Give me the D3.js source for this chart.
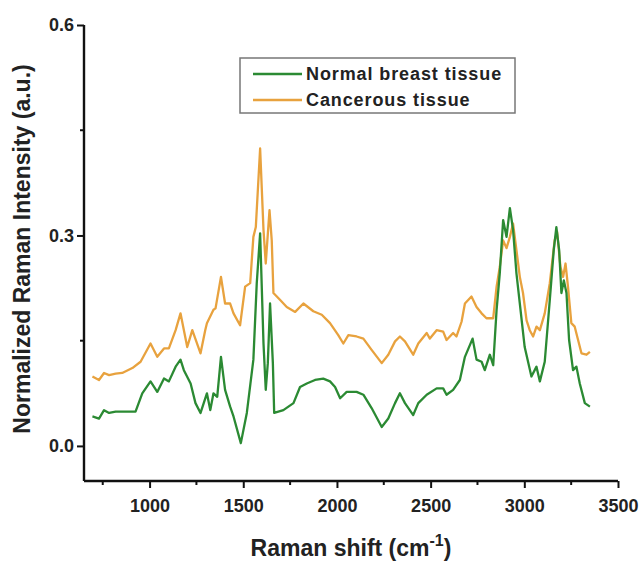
<!DOCTYPE html>
<html><head><meta charset="utf-8">
<script src="https://cdn.jsdelivr.net/npm/d3@7"></script>
<style>body{margin:0;background:#fff}svg{display:block}</style>
</head><body><svg id="c" width="641" height="563"></svg>
<script>
const normalX=[695,730,757,784,819,925,961,1005,1041,1077,1103,1139,1165,1183,1219,1245,1272,1306,1324,1341,1361,1381,1403,1430,1448,1487,1519,1554,1572,1590,1608,1620,1631,1643,1658,1665,1714,1768,1803,1839,1883,1927,1963,1990,2017,2052,2105,2141,2185,2239,2274,2310,2336,2363,2407,2434,2479,2532,2567,2585,2620,2656,2683,2724,2745,2772,2789,2816,2834,2852,2869,2887,2905,2923,2940,2958,2976,3002,3038,3065,3083,3109,3136,3157,3171,3186,3198,3211,3225,3239,3260,3278,3296,3323,3350];
const normalY=[0.042,0.039,0.051,0.047,0.049,0.049,0.075,0.092,0.077,0.096,0.092,0.113,0.123,0.108,0.089,0.061,0.047,0.075,0.051,0.075,0.070,0.127,0.080,0.056,0.042,0.004,0.047,0.123,0.232,0.303,0.146,0.080,0.118,0.203,0.118,0.047,0.051,0.061,0.084,0.089,0.094,0.096,0.092,0.084,0.068,0.077,0.077,0.073,0.054,0.027,0.039,0.061,0.075,0.061,0.044,0.061,0.073,0.082,0.082,0.073,0.080,0.094,0.127,0.153,0.123,0.120,0.108,0.130,0.115,0.194,0.246,0.322,0.298,0.339,0.308,0.246,0.203,0.141,0.099,0.113,0.092,0.120,0.208,0.279,0.312,0.279,0.218,0.236,0.218,0.151,0.108,0.113,0.089,0.061,0.056];
const cancerX=[695,730,757,784,819,854,908,952,1005,1041,1077,1103,1139,1165,1201,1228,1272,1297,1306,1341,1352,1381,1403,1430,1448,1483,1510,1537,1554,1567,1590,1608,1620,1640,1652,1661,1697,1732,1777,1821,1874,1919,1963,2007,2034,2061,2105,2141,2185,2239,2274,2310,2336,2363,2407,2434,2479,2496,2532,2567,2585,2620,2638,2665,2683,2718,2745,2772,2798,2834,2852,2869,2887,2905,2923,2940,2958,2976,2993,3012,3029,3047,3065,3083,3109,3136,3162,3175,3193,3207,3220,3233,3251,3269,3287,3305,3332,3350];
const cancerY=[0.099,0.094,0.104,0.101,0.103,0.104,0.111,0.120,0.146,0.127,0.139,0.139,0.165,0.189,0.141,0.165,0.132,0.165,0.175,0.194,0.196,0.241,0.203,0.203,0.189,0.172,0.227,0.232,0.298,0.312,0.424,0.308,0.260,0.336,0.293,0.218,0.208,0.198,0.191,0.203,0.192,0.187,0.175,0.158,0.146,0.158,0.156,0.153,0.137,0.118,0.130,0.149,0.156,0.149,0.130,0.146,0.161,0.153,0.165,0.163,0.151,0.161,0.156,0.177,0.203,0.213,0.198,0.189,0.182,0.182,0.227,0.255,0.293,0.282,0.298,0.317,0.279,0.241,0.218,0.179,0.165,0.156,0.170,0.165,0.189,0.232,0.293,0.305,0.255,0.241,0.260,0.227,0.175,0.170,0.151,0.132,0.130,0.134];
const xTicks=[1000,1500,2000,2500,3000,3500];
const xMinor=[750,1250,1750,2250,2750,3250];
const yTicks=[0.0,0.3,0.6];
const yMinor=[0.15,0.45];
const seriesNames=["Normal breast tissue","Cancerous tissue"];
const colors=["#2b8a33","#e8a23e"];

const svg=d3.select("#c");
const m={l:84,t:25,r:618,b:481};
const x=d3.scaleLinear().domain([650,3500]).range([m.l,m.r]);
const y=d3.scaleLinear().domain([-0.05,0.6]).range([m.b,m.t]);
const font="'Liberation Sans',Arial,sans-serif";

const line=d3.line().x(d=>x(d[0])).y(d=>y(d[1]));
const dN=normalX.map((v,i)=>[v,normalY[i]]);
const dC=cancerX.map((v,i)=>[v,cancerY[i]]);
svg.append("path").datum(dC).attr("d",line).attr("fill","none").attr("stroke",colors[1]).attr("stroke-width",2.3).attr("stroke-linejoin","round");
svg.append("path").datum(dN).attr("d",line).attr("fill","none").attr("stroke",colors[0]).attr("stroke-width",2.3).attr("stroke-linejoin","round");

// axes
const xa=svg.append("g").attr("transform",`translate(0,${m.b})`)
  .call(d3.axisBottom(x).tickValues(xTicks).tickSize(7).tickPadding(11).tickFormat(d3.format("d")));
xa.append("g").selectAll("line").data(xMinor).join("line").attr("x1",d=>x(d)).attr("x2",d=>x(d)).attr("y1",0).attr("y2",4).attr("stroke","#111").attr("stroke-width",2);
const ya=svg.append("g").attr("transform",`translate(${m.l},0)`)
  .call(d3.axisLeft(y).tickValues(yTicks).tickSize(7).tickPadding(3).tickFormat(d3.format(".1f")));
ya.append("g").selectAll("line").data(yMinor).join("line").attr("x1",0).attr("x2",-4).attr("y1",d=>y(d)).attr("y2",d=>y(d)).attr("stroke","#111").attr("stroke-width",2);
[xa,ya].forEach(g=>{
  g.select(".domain").attr("stroke","#111").attr("stroke-width",2.4).attr("d", g===xa?`M${m.l},0H${m.r}`:`M0,${m.b}V${m.t}`);
  g.selectAll(".tick line").attr("stroke","#111").attr("stroke-width",2);
  g.selectAll(".tick text").attr("font-family",font).attr("font-weight","bold").attr("font-size",18).attr("fill","#222");
});

// titles
svg.append("text").attr("x",(m.l+m.r)/2).attr("y",556).attr("text-anchor","middle")
  .attr("font-family",font).attr("font-weight","bold").attr("font-size",23).attr("fill","#222")
  .call(t=>{t.append("tspan").text("Raman shift (cm");t.append("tspan").attr("dy",-10).attr("font-size",16).text("-1");t.append("tspan").attr("dy",10).text(")");});
svg.append("text").attr("transform","translate(30,249) rotate(-90)").attr("text-anchor","middle")
  .attr("font-family",font).attr("font-weight","bold").attr("font-size",23).attr("fill","#222")
  .text("Normalized Raman Intensity (a.u.)");

// legend
const lg=svg.append("g");
lg.append("rect").attr("x",240).attr("y",58).attr("width",275).attr("height",55).attr("fill","#fff").attr("stroke","#777").attr("stroke-width",1.5);
seriesNames.forEach((s,i)=>{
  const yy=74+i*26;
  lg.append("line").attr("x1",253).attr("x2",302).attr("y1",yy).attr("y2",yy).attr("stroke",colors[i]).attr("stroke-width",2.3);
  lg.append("text").attr("x",306).attr("y",yy+6).attr("font-family",font).attr("font-weight","bold").attr("font-size",18).attr("letter-spacing",0.9).attr("fill","#222").text(s);
});
</script></body></html>
